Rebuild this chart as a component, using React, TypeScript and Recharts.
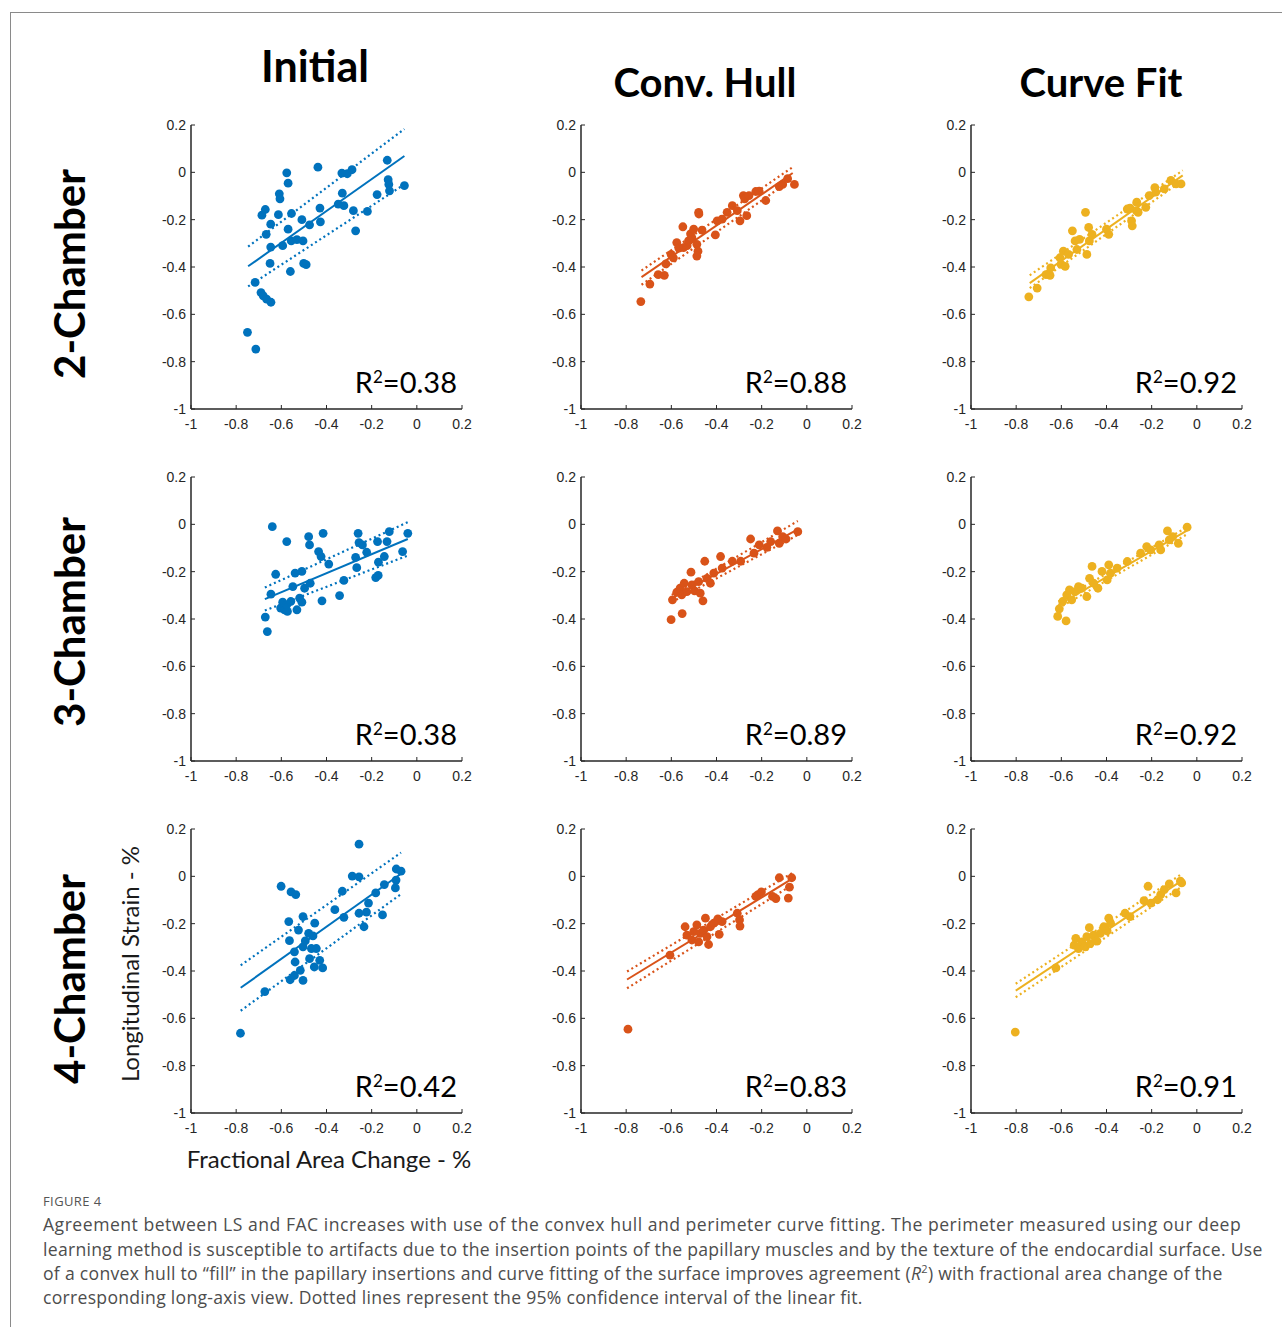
import { Scatter, ScatterChart, XAxis, YAxis } from 'recharts'

// Panel layout (MATLAB export): three columns of methods, three rows of views.
const columnTitles = ['Initial', 'Conv. Hull', 'Curve Fit']
const rowTitles = ['2-Chamber', '3-Chamber', '4-Chamber']
const axisTicks = [-1, -0.8, -0.6, -0.4, -0.2, 0, 0.2]
const r2Values = ['0.38', '0.88', '0.92', '0.38', '0.89', '0.92', '0.42', '0.83', '0.91']

// [FAC, LS] per subject
const ch2Initial = [
  [-0.75, -0.676], [-0.713, -0.747], [-0.716, -0.465], [-0.69, -0.508], [-0.68, -0.522],
  [-0.665, -0.536], [-0.646, -0.549], [-0.686, -0.181], [-0.671, -0.157], [-0.667, -0.262],
  [-0.647, -0.219], [-0.647, -0.316], [-0.65, -0.385], [-0.613, -0.179], [-0.609, -0.091],
  [-0.606, -0.112], [-0.594, -0.31], [-0.576, -0.002], [-0.57, -0.046], [-0.57, -0.24],
  [-0.555, -0.174], [-0.556, -0.29], [-0.56, -0.419], [-0.531, -0.284], [-0.509, -0.2],
  [-0.504, -0.29], [-0.501, -0.385], [-0.49, -0.39], [-0.475, -0.222], [-0.438, 0.022],
  [-0.429, -0.151], [-0.427, -0.209], [-0.348, -0.134], [-0.332, -0.003], [-0.33, -0.088],
  [-0.323, -0.141], [-0.308, -0.006], [-0.287, 0.011], [-0.281, -0.162], [-0.271, -0.247],
  [-0.219, -0.165], [-0.176, -0.094], [-0.131, 0.051], [-0.127, -0.031], [-0.124, -0.051],
  [-0.121, -0.078], [-0.055, -0.056],
]
const ch2Hull = [
  [-0.735, -0.546], [-0.695, -0.472], [-0.658, -0.432], [-0.631, -0.435], [-0.624, -0.387],
  [-0.601, -0.347], [-0.576, -0.297], [-0.591, -0.361], [-0.567, -0.32], [-0.549, -0.23],
  [-0.546, -0.318], [-0.53, -0.31], [-0.524, -0.29], [-0.515, -0.26], [-0.509, -0.276],
  [-0.501, -0.24], [-0.487, -0.304], [-0.479, -0.169], [-0.478, -0.176], [-0.482, -0.333],
  [-0.487, -0.354], [-0.464, -0.244], [-0.405, -0.264], [-0.397, -0.205], [-0.375, -0.198],
  [-0.353, -0.169], [-0.33, -0.141], [-0.308, -0.162], [-0.296, -0.205], [-0.281, -0.098],
  [-0.275, -0.112], [-0.266, -0.183], [-0.256, -0.098], [-0.226, -0.081], [-0.211, -0.08],
  [-0.182, -0.119], [-0.122, -0.06], [-0.107, -0.051], [-0.085, -0.027], [-0.055, -0.051],
]
const ch2Curve = [
  [-0.744, -0.526], [-0.707, -0.489], [-0.668, -0.432], [-0.65, -0.435], [-0.647, -0.404],
  [-0.606, -0.361], [-0.601, -0.389], [-0.591, -0.333], [-0.583, -0.397], [-0.568, -0.347],
  [-0.551, -0.247], [-0.539, -0.29], [-0.531, -0.326], [-0.519, -0.283], [-0.493, -0.169],
  [-0.487, -0.347], [-0.479, -0.233], [-0.476, -0.29], [-0.464, -0.262], [-0.4, -0.24],
  [-0.39, -0.262], [-0.308, -0.155], [-0.296, -0.151], [-0.289, -0.205], [-0.286, -0.226],
  [-0.268, -0.162], [-0.266, -0.126], [-0.26, -0.169], [-0.226, -0.148], [-0.211, -0.098],
  [-0.186, -0.065], [-0.182, -0.084], [-0.144, -0.07], [-0.115, -0.034], [-0.092, -0.049],
  [-0.07, -0.049],
]
const ch3Initial = [
  [-0.64, -0.01], [-0.671, -0.392], [-0.662, -0.453], [-0.646, -0.295], [-0.625, -0.211],
  [-0.603, -0.354], [-0.594, -0.329], [-0.586, -0.361], [-0.576, -0.34], [-0.573, -0.368],
  [-0.576, -0.073], [-0.558, -0.326], [-0.549, -0.263], [-0.539, -0.206], [-0.531, -0.361],
  [-0.519, -0.312], [-0.509, -0.199], [-0.509, -0.329], [-0.497, -0.27], [-0.479, -0.052],
  [-0.475, -0.087], [-0.472, -0.249], [-0.435, -0.115], [-0.424, -0.136], [-0.415, -0.038],
  [-0.42, -0.323], [-0.39, -0.168], [-0.342, -0.301], [-0.323, -0.237], [-0.271, -0.14],
  [-0.266, -0.183], [-0.26, -0.038], [-0.256, -0.077], [-0.241, -0.087], [-0.222, -0.118],
  [-0.182, -0.225], [-0.171, -0.216], [-0.17, -0.16], [-0.174, -0.073], [-0.144, -0.136],
  [-0.132, -0.073], [-0.122, -0.031], [-0.063, -0.115], [-0.04, -0.038],
]
const ch3Hull = [
  [-0.601, -0.403], [-0.552, -0.377], [-0.595, -0.319], [-0.576, -0.287], [-0.561, -0.27],
  [-0.554, -0.298], [-0.543, -0.249], [-0.531, -0.284], [-0.513, -0.202], [-0.509, -0.256],
  [-0.497, -0.281], [-0.479, -0.242], [-0.472, -0.291], [-0.46, -0.323], [-0.452, -0.156],
  [-0.442, -0.228], [-0.427, -0.249], [-0.412, -0.206], [-0.382, -0.136], [-0.375, -0.185],
  [-0.33, -0.156], [-0.293, -0.156], [-0.249, -0.062], [-0.234, -0.122], [-0.211, -0.087],
  [-0.177, -0.097], [-0.16, -0.073], [-0.13, -0.028], [-0.122, -0.08], [-0.107, -0.052],
  [-0.092, -0.062], [-0.04, -0.031],
]
const ch3Curve = [
  [-0.616, -0.389], [-0.579, -0.408], [-0.609, -0.357], [-0.594, -0.326], [-0.576, -0.298],
  [-0.564, -0.277], [-0.554, -0.319], [-0.539, -0.284], [-0.524, -0.263], [-0.509, -0.27],
  [-0.487, -0.305], [-0.475, -0.228], [-0.464, -0.178], [-0.457, -0.249], [-0.438, -0.27],
  [-0.42, -0.199], [-0.397, -0.235], [-0.39, -0.171], [-0.382, -0.206], [-0.353, -0.185],
  [-0.308, -0.157], [-0.249, -0.122], [-0.222, -0.094], [-0.204, -0.108], [-0.167, -0.087],
  [-0.16, -0.108], [-0.13, -0.028], [-0.122, -0.066], [-0.107, -0.052], [-0.082, -0.08],
  [-0.043, -0.012],
]
const ch4Initial = [
  [-0.781, -0.663], [-0.673, -0.487], [-0.601, -0.042], [-0.557, -0.066], [-0.536, -0.077],
  [-0.567, -0.191], [-0.564, -0.272], [-0.542, -0.319], [-0.539, -0.362], [-0.561, -0.437],
  [-0.542, -0.419], [-0.524, -0.227], [-0.516, -0.397], [-0.504, -0.17], [-0.504, -0.298],
  [-0.504, -0.44], [-0.494, -0.273], [-0.479, -0.241], [-0.475, -0.348], [-0.467, -0.305],
  [-0.46, -0.252], [-0.454, -0.383], [-0.452, -0.198], [-0.445, -0.305], [-0.43, -0.355],
  [-0.417, -0.387], [-0.363, -0.141], [-0.33, -0.063], [-0.323, -0.173], [-0.286, 0.001],
  [-0.256, 0.136], [-0.256, -0.002], [-0.256, -0.156], [-0.234, -0.213], [-0.223, -0.151],
  [-0.214, -0.113], [-0.182, -0.07], [-0.152, -0.163], [-0.144, -0.035], [-0.095, -0.049],
  [-0.092, -0.016], [-0.091, 0.031], [-0.07, 0.022],
]
const ch4Hull = [
  [-0.792, -0.646], [-0.606, -0.333], [-0.539, -0.213], [-0.531, -0.248], [-0.509, -0.269],
  [-0.501, -0.234], [-0.487, -0.205], [-0.479, -0.277], [-0.472, -0.241], [-0.457, -0.227],
  [-0.449, -0.177], [-0.442, -0.255], [-0.435, -0.288], [-0.427, -0.213], [-0.412, -0.198],
  [-0.394, -0.18], [-0.388, -0.245], [-0.375, -0.191], [-0.308, -0.156], [-0.298, -0.184],
  [-0.296, -0.21], [-0.226, -0.085], [-0.216, -0.077], [-0.201, -0.066], [-0.152, -0.085],
  [-0.137, -0.094], [-0.122, -0.006], [-0.082, -0.092], [-0.077, -0.046], [-0.067, -0.006],
]
const ch4Curve = [
  [-0.804, -0.658], [-0.624, -0.387], [-0.543, -0.291], [-0.536, -0.262], [-0.524, -0.305],
  [-0.509, -0.277], [-0.494, -0.298], [-0.487, -0.255], [-0.476, -0.217], [-0.472, -0.284],
  [-0.457, -0.248], [-0.442, -0.274], [-0.427, -0.241], [-0.412, -0.213], [-0.397, -0.231],
  [-0.39, -0.177], [-0.382, -0.198], [-0.318, -0.156], [-0.296, -0.17], [-0.234, -0.103],
  [-0.216, -0.042], [-0.204, -0.113], [-0.174, -0.099], [-0.16, -0.077], [-0.144, -0.056],
  [-0.122, -0.032], [-0.092, -0.07], [-0.073, -0.02], [-0.067, -0.028],
]

// Linear fit endpoints: [FAC, fit, upper 95% CI, lower 95% CI]
const ch2InitialFit = [[-0.747, -0.397, -0.314, -0.482], [-0.055, 0.069, 0.183, -0.051]]
const ch2HullFit = [[-0.732, -0.443, -0.415, -0.475], [-0.0625, -0.003, 0.022, -0.027]]
const ch2CurveFit = [[-0.74, -0.468, -0.435, -0.489], [-0.0625, -0.013, 0.008, -0.034]]
const ch3InitialFit = [[-0.673, -0.316, -0.267, -0.364], [-0.04, -0.062, 0.009, -0.132]]
const ch3HullFit = [[-0.598, -0.312, -0.298, -0.329], [-0.04, -0.021, 0.014, -0.045]]
const ch3CurveFit = [[-0.613, -0.34, -0.326, -0.355], [-0.04, -0.024, -0.01, -0.04]]
const ch4InitialFit = [[-0.78, -0.471, -0.376, -0.568], [-0.07, 0.011, 0.1, -0.075]]
const ch4HullFit = [[-0.796, -0.436, -0.402, -0.473], [-0.0625, -0.009, 0.015, -0.035]]
const ch4CurveFit = [[-0.802, -0.483, -0.454, -0.511], [-0.07, -0.02, 0.008, -0.046]]

const COLORS = ['#0072BD', '#D95319', '#EDB120']
const AXIS = '#262626'
const PLOT_LEFT = [191, 581, 971]
const PLOT_TOP = [125, 477, 829]
const Y_AXIS_W = 45
const TOP_PAD = 10

const panels = [
  [ch2Initial, ch2InitialFit], [ch2Hull, ch2HullFit], [ch2Curve, ch2CurveFit],
  [ch3Initial, ch3InitialFit], [ch3Hull, ch3HullFit], [ch3Curve, ch3CurveFit],
  [ch4Initial, ch4InitialFit], [ch4Hull, ch4HullFit], [ch4Curve, ch4CurveFit],
]

const tickStyle = { fill: AXIS, fontSize: 14, fontFamily: '"Liberation Sans", Arial, sans-serif' }
const noMarker = () => <g />

function Panel({ points, fit, color, r2, left, top }) {
  const pts = points.map(([x, y]) => ({ x, y }))
  const mid = fit.map(([x, y]) => ({ x, y }))
  const hi = fit.map(([x, , u]) => ({ x, y: u }))
  const lo = fit.map(([x, , , l]) => ({ x, y: l }))
  const dotted = { stroke: color, strokeWidth: 2.2, strokeDasharray: '2 3' }
  return (
    <div style={{ position: 'absolute', left: left - Y_AXIS_W, top: top - TOP_PAD, width: 326, height: 324 }}>
      <ScatterChart width={326} height={324} margin={{ top: TOP_PAD, right: 10, bottom: 0, left: 0 }}>
        <XAxis
          type="number"
          dataKey="x"
          domain={[-1, 0.2]}
          ticks={axisTicks}
          interval={0}
          height={30}
          tickSize={-4}
          tickMargin={14}
          axisLine={{ stroke: AXIS, strokeWidth: 1.5 }}
          tickLine={{ stroke: AXIS }}
          tick={tickStyle}
        />
        <YAxis
          type="number"
          dataKey="y"
          domain={[-1, 0.2]}
          ticks={axisTicks}
          interval={0}
          width={Y_AXIS_W}
          tickSize={-4}
          tickMargin={9}
          axisLine={{ stroke: AXIS, strokeWidth: 1.5 }}
          tickLine={{ stroke: AXIS }}
          tick={tickStyle}
        />
        <Scatter
          data={pts}
          fill={color}
          isAnimationActive={false}
          shape={(p) => <circle cx={p.cx} cy={p.cy} r={4.4} fill={color} />}
        />
        <Scatter data={mid} line={{ stroke: color, strokeWidth: 2 }} shape={noMarker} isAnimationActive={false} />
        <Scatter data={hi} line={dotted} shape={noMarker} isAnimationActive={false} />
        <Scatter data={lo} line={dotted} shape={noMarker} isAnimationActive={false} />
      </ScatterChart>
      <div
        style={{
          position: 'absolute',
          right: 15,
          top: 252,
          fontFamily: 'Lato, sans-serif',
          fontSize: 29,
          lineHeight: '29px',
          color: '#000',
          whiteSpace: 'nowrap',
        }}
      >
        R<span style={{ fontSize: 17, verticalAlign: 10, lineHeight: 0 }}>2</span>=
        {r2}
      </div>
    </div>
  )
}

const heading = {
  position: 'absolute' as const,
  fontFamily: 'Lato, sans-serif',
  fontWeight: 700,
  fontSize: 40,
  lineHeight: '40px',
  color: '#000',
  whiteSpace: 'nowrap' as const,
  textAlign: 'center' as const,
}

const captionLine = {
  position: 'absolute' as const,
  left: 43,
  fontFamily: '"Open Sans", sans-serif',
  fontSize: 17.6,
  letterSpacing: 0.28,
  lineHeight: '24px',
  color: '#4d4d4d',
  whiteSpace: 'nowrap' as const,
}

export default function App() {
  const titleTops = [44, 62, 62]
  const titleSizes = [43, 40, 40]
  const titleCenters = [315, 705, 1101]
  const rowCenters = [274, 622, 979]
  return (
    <div
      style={{
        position: 'absolute',
        left: 0,
        top: 0,
        width: 1282,
        height: 1327,
        overflow: 'hidden',
        background: '#fff',
      }}
    >
      <div
        style={{
          position: 'absolute',
          left: 10,
          top: 12,
          width: 1400,
          height: 1400,
          border: '1px solid #8a8a8a',
        }}
      />
      {columnTitles.map((t, i) => (
        <div
          key={t}
          style={{
            ...heading,
            fontSize: titleSizes[i],
            lineHeight: `${titleSizes[i]}px`,
            left: titleCenters[i] - 150,
            top: titleTops[i],
            width: 300,
          }}
        >
          {t}
        </div>
      ))}
      {rowTitles.map((t, i) => (
        <div
          key={t}
          style={{
            ...heading,
            fontSize: 42,
            lineHeight: '42px',
            left: 69 - 150,
            top: rowCenters[i] - 21,
            width: 300,
            transform: 'rotate(-90deg)',
          }}
        >
          {t}
        </div>
      ))}
      {panels.map(([points, fit], i) => (
        <Panel
          key={i}
          points={points}
          fit={fit}
          color={COLORS[i % 3]}
          r2={r2Values[i]}
          left={PLOT_LEFT[i % 3]}
          top={PLOT_TOP[Math.floor(i / 3)]}
        />
      ))}
      <div
        style={{
          position: 'absolute',
          left: 130 - 150,
          top: 964 - 13,
          width: 300,
          textAlign: 'center',
          fontFamily: 'Lato, sans-serif',
          fontSize: 24,
          lineHeight: '26px',
          color: '#1a1a1a',
          whiteSpace: 'nowrap',
          transform: 'rotate(-90deg)',
        }}
      >
        Longitudinal Strain - %
      </div>
      <div
        style={{
          position: 'absolute',
          left: 329 - 150,
          top: 1146,
          width: 300,
          textAlign: 'center',
          fontFamily: 'Lato, sans-serif',
          fontSize: 24,
          lineHeight: '26px',
          color: '#1a1a1a',
          whiteSpace: 'nowrap',
        }}
      >
        Fractional Area Change - %
      </div>
      <div
        style={{
          position: 'absolute',
          left: 43,
          top: 1192,
          fontFamily: '"Open Sans", sans-serif',
          fontSize: 13,
          lineHeight: '18px',
          letterSpacing: 0.4,
          color: '#555',
        }}
      >
        FIGURE 4
      </div>
      <div style={{ ...captionLine, top: 1212, letterSpacing: 0.5 }}>
        Agreement between LS and FAC increases with use of the convex hull and perimeter curve fitting. The perimeter measured using our deep
      </div>
      <div style={{ ...captionLine, top: 1237 }}>
        learning method is susceptible to artifacts due to the insertion points of the papillary muscles and by the texture of the endocardial surface. Use
      </div>
      <div style={{ ...captionLine, top: 1261 }}>
        of a convex hull to “fill” in the papillary insertions and curve fitting of the surface improves agreement (
        <i>R</i>
        <span style={{ fontSize: 11, position: 'relative', top: -7 }}>2</span>) with fractional area change of the
      </div>
      <div style={{ ...captionLine, top: 1285 }}>
        corresponding long-axis view. Dotted lines represent the 95% confidence interval of the linear fit.
      </div>
    </div>
  )
}
